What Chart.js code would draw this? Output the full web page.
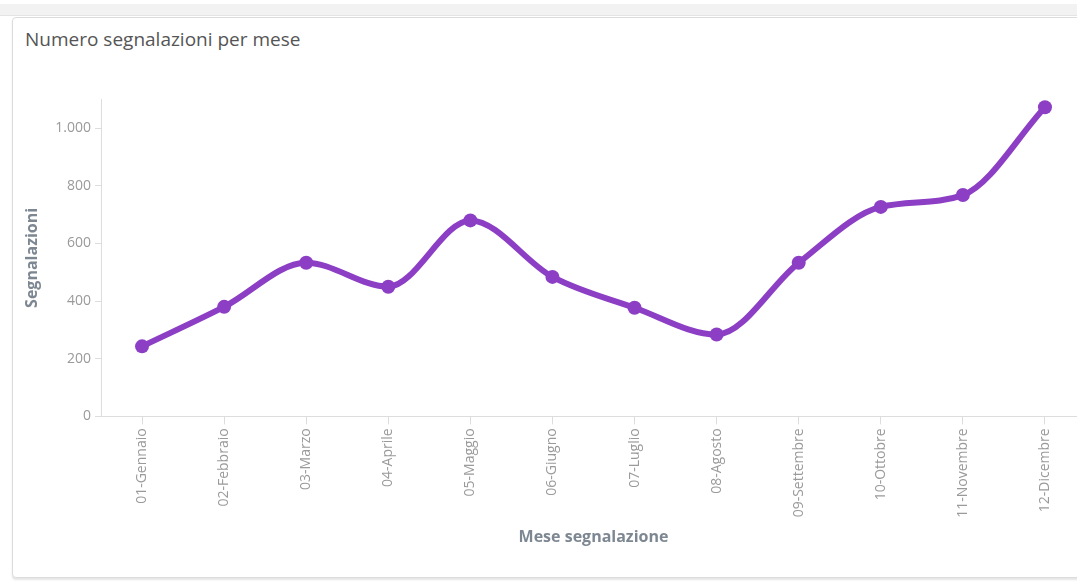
<!DOCTYPE html>
<html lang="it">
<head>
<meta charset="utf-8">
<title>Numero segnalazioni per mese</title>
<script src="https://cdn.jsdelivr.net/npm/chart.js@4/dist/chart.umd.min.js"></script>
<style>
  html, body { margin: 0; padding: 0; background: #fff; overflow: hidden; }
  body { width: 1077px; height: 582px; position: relative; font-family: 'Open Sans', sans-serif; }
  .topbar { position: absolute; left: 0; top: 4px; width: 1077px; height: 11px; background: #f2f2f2; border-bottom: 1px solid #e4e4e4; }
  .card { position: absolute; left: 12px; top: 17px; width: 1100px; height: 559px; border: 1px solid #dcdcdc; border-radius: 4px; background: #fff; box-shadow: 0 2px 2px #e6e6e6; }
  .card h3 { position: absolute; left: 12px; top: 8px; margin: 0; font-weight: 400; font-size: 19px; color: #555; }
  .chart-wrap { position: absolute; left: 0; top: 69px; width: 1080px; height: 464px; }
</style>
</head>
<body>
<div class="topbar"></div>
<div class="card">
  <h3>Numero segnalazioni per mese</h3>
  <div class="chart-wrap"><canvas id="meseChart"></canvas></div>
</div>
<script>
// ----- Data -----
const mesi = ['01-Gennaio', '02-Febbraio', '03-Marzo', '04-Aprile', '05-Maggio', '06-Giugno',
              '07-Luglio', '08-Agosto', '09-Settembre', '10-Ottobre', '11-Novembre', '12-Dicembre'];
const segnalazioni = [243, 380, 533, 450, 680, 484, 377, 284, 533, 727, 768, 1073];
const yTicks = [0, 200, 400, 600, 800, 1000];

const purple    = '#8c3fc4';
const tickGray  = '#9a9a9a';
const titleGray = '#7d8792';
const lineGray  = '#dddddd';

new Chart(document.getElementById('meseChart'), {
  type: 'line',
  data: {
    labels: mesi,
    datasets: [{
      label: 'Segnalazioni',
      data: segnalazioni,
      borderColor: purple,
      backgroundColor: purple,
      borderWidth: 6,
      pointRadius: 7,
      pointBackgroundColor: purple,
      pointBorderWidth: 0,
      cubicInterpolationMode: 'monotone',
      fill: false
    }]
  },
  options: {
    responsive: true,
    maintainAspectRatio: false,
    animation: false,
    layout: { padding: { top: 10, right: 6, bottom: 2, left: 6 } },
    plugins: {
      legend: { display: false },
      tooltip: { enabled: false }
    },
    scales: {
      x: {
        offset: true,
        grid: { drawOnChartArea: false, color: lineGray, tickLength: 8 },
        border: { color: lineGray },
        ticks: {
          color: tickGray,
          font: { family: 'Open Sans', size: 14 },
          maxRotation: 90, minRotation: 90,
          padding: 4
        },
        title: {
          display: true, text: 'Mese segnalazione', color: titleGray,
          font: { family: 'Open Sans', size: 16, weight: 'bold' },
          padding: { top: 6, bottom: 2 }
        }
      },
      y: {
        min: 0, max: 1100,
        grid: { drawOnChartArea: false, color: lineGray, tickLength: 6 },
        border: { color: lineGray },
        afterBuildTicks: scale => { scale.ticks = yTicks.map(v => ({ value: v })); },
        ticks: {
          color: tickGray,
          font: { family: 'Open Sans', size: 14 },
          padding: 4,
          callback: v => v.toLocaleString('it-IT')
        },
        title: {
          display: true, text: 'Segnalazioni', color: titleGray,
          font: { family: 'Open Sans', size: 16, weight: 'bold' }
        },
        afterFit: scale => { scale.width = 82; }
      }
    }
  }
});
</script>
</body>
</html>
